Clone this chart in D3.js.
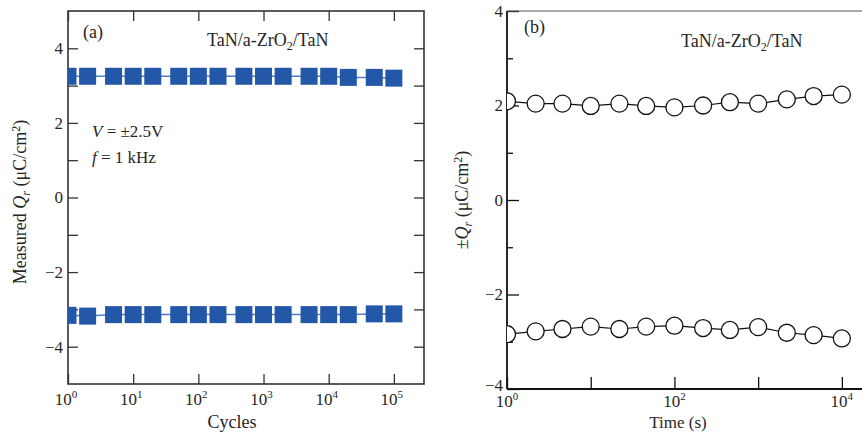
<!DOCTYPE html>
<html>
<head>
<meta charset="utf-8">
<script src="https://cdn.jsdelivr.net/npm/d3@7"></script>
<style>
    body { margin: 0; background: #fff; }
    svg text { font-family: "Liberation Serif", "Times New Roman", serif; fill: #262626; }
</style>
</head>
<body>
<div id="chart"></div>
<script>
// ---- data ----
// (a) remanent charge vs. switching cycles
const cycles = [1, 2, 5, 10, 20, 50, 100, 200, 500, 1000, 2000, 5000, 10000, 20000, 50000, 100000];
const qrPosCycles = [3.25, 3.25, 3.25, 3.25, 3.25, 3.25, 3.25, 3.25, 3.25, 3.25, 3.25, 3.25, 3.25, 3.22, 3.22, 3.20];
const qrNegCycles = [-3.16, -3.18, -3.14, -3.14, -3.14, -3.14, -3.14, -3.14, -3.14, -3.14, -3.14, -3.14, -3.14, -3.14, -3.12, -3.12];

// (b) retention: charge vs. time
const times = [1, 2.2, 4.6, 10, 22, 46, 100, 220, 460, 1000, 2200, 4600, 10000];
const qrPosTime = [2.09, 2.04, 2.04, 1.99, 2.04, 1.99, 1.96, 2.0, 2.07, 2.04, 2.13, 2.2, 2.23];
const qrNegTime = [-2.84, -2.78, -2.73, -2.68, -2.73, -2.68, -2.66, -2.71, -2.75, -2.69, -2.81, -2.86, -2.93];

const yTicksA = [-4, -3, -2, -1, 0, 1, 2, 3, 4];
const xTicksA = [1, 10, 100, 1000, 10000, 100000];
const yTicksB = [-4, -3, -2, -1, 0, 1, 2, 3, 4];
const xTicksB = [1, 10, 100, 1000, 10000];
const xLabelsB = [1, 100, 10000];

const W = 862, H = 437;
const svg = d3.select("#chart").append("svg")
    .attr("width", W)
    .attr("height", H);

const minus = v => (v < 0 ? "\u2212" + Math.abs(v) : "" + v);

// writes "10^n" into a text node
function powLabel(sel, v) {
    sel.append("tspan").text("10");
    sel.append("tspan").attr("dy", -7).attr("font-size", 11).text(Math.round(Math.log10(v)));
}

// rotated y label "<prefix> Q_r (μC/cm²)"
function qLabel(x, y, prefix) {
    let t = svg.append("text")
        .attr("transform", `translate(${x},${y}) rotate(-90)`)
        .attr("text-anchor", "middle")
        .attr("font-size", 18);
    t.append("tspan").text(prefix);
    t.append("tspan").attr("font-style", "italic").text("Q");
    t.append("tspan").attr("font-style", "italic").attr("font-size", 12).attr("dy", 4).text("r");
    t.append("tspan").attr("dy", -4).text(" (\u03bcC/cm");
    t.append("tspan").attr("font-size", 12).attr("dy", -6).text("2");
    t.append("tspan").attr("dy", 6).text(")");
}

function stackLabel(x, y) {
    let t = svg.append("text").attr("x", x).attr("y", y).attr("font-size", 18);
    t.append("tspan").text("TaN/a-ZrO");
    t.append("tspan").attr("font-size", 12).attr("dy", 4).text("2");
    t.append("tspan").attr("dy", -4).text("/TaN");
}

// ticks, all pointing inward
function styleAxis(g) {
    g.select(".domain").remove();
    g.selectAll(".tick line").attr("stroke", "#333").attr("stroke-width", 1.3);
    g.selectAll(".tick text").attr("font-size", 17).attr("fill", "#262626")
        .style("font-family", "'Liberation Serif', serif");
}

/* * * * * * * * * * * * * *
*        panel (a)          *
* * * * * * * * * * * * * */
const ax = {left: 68, right: 424, top: 11, bottom: 384};
const xA = d3.scaleLog().domain([1, 2.9e5]).range([ax.left, ax.right]);
const yA = d3.scaleLinear().domain([-5, 5]).range([ax.bottom, ax.top]);

const defs = svg.append("defs");
defs.append("clipPath").attr("id", "clipA")
    .append("rect").attr("x", ax.left).attr("y", ax.top)
    .attr("width", ax.right - ax.left).attr("height", ax.bottom - ax.top);

svg.append("g").attr("transform", `translate(${ax.left},0)`)
    .call(d3.axisLeft(yA).tickValues(yTicksA).tickSize(-10).tickPadding(5)
        .tickFormat(d => (d % 2 === 0 ? minus(d) : "")))
    .call(styleAxis);
svg.append("g").attr("transform", `translate(${ax.right},0)`)
    .call(d3.axisRight(yA).tickValues(yTicksA).tickSize(-10).tickFormat(""))
    .call(styleAxis);
svg.append("g").attr("transform", `translate(0,${ax.bottom})`)
    .call(d3.axisBottom(xA).tickValues(xTicksA).tickSize(-10).tickFormat(""))
    .call(styleAxis);
svg.append("g").attr("transform", `translate(0,${ax.top})`)
    .call(d3.axisTop(xA).tickValues(xTicksA).tickSize(-10).tickFormat(""))
    .call(styleAxis);

svg.selectAll(".xlabA").data(xTicksA).enter()
    .append("text")
    .attr("x", d => xA(d) - 2)
    .attr("y", ax.bottom + 21)
    .attr("text-anchor", "middle")
    .attr("font-size", 17)
    .each(function(d) { powLabel(d3.select(this), d); });

svg.append("rect")
    .attr("x", ax.left).attr("y", ax.top)
    .attr("width", ax.right - ax.left).attr("height", ax.bottom - ax.top)
    .attr("fill", "none").attr("stroke", "#333").attr("stroke-width", 1.6);

const plotA = svg.append("g").attr("clip-path", "url(#clipA)");
const lineA = d3.line().x(d => xA(d[0])).y(d => yA(d[1]));
const sq = 17;

[qrPosCycles, qrNegCycles].forEach((series) => {
    let pts = cycles.map((c, i) => [c, series[i]]);
    plotA.append("path")
        .attr("d", lineA(pts))
        .attr("fill", "none")
        .attr("stroke", "#4f80c4")
        .attr("stroke-width", 1.5);
    plotA.selectAll(null).data(pts).enter()
        .append("rect")
        .attr("x", d => xA(d[0]) - sq / 2)
        .attr("y", d => yA(d[1]) - sq / 2)
        .attr("width", sq)
        .attr("height", sq)
        .attr("fill", "#2357a7");
});

svg.append("text").attr("x", 83).attr("y", 38).attr("font-size", 18).text("(a)");
stackLabel(207, 46);
let vText = svg.append("text").attr("x", 92).attr("y", 137).attr("font-size", 17);
vText.append("tspan").attr("font-style", "italic").text("V");
vText.append("tspan").text(" = \u00b12.5V");
let fText = svg.append("text").attr("x", 92).attr("y", 163).attr("font-size", 17);
fText.append("tspan").attr("font-style", "italic").text("f");
fText.append("tspan").text(" = 1 kHz");

svg.append("text")
    .attr("x", 232)
    .attr("y", 428)
    .attr("text-anchor", "middle")
    .attr("font-size", 18)
    .text("Cycles");
qLabel(26, 202, "Measured ");

/* * * * * * * * * * * * * *
*        panel (b)          *
* * * * * * * * * * * * * */
const bx = {left: 507, right: 862, top: 11, bottom: 389};
const xB = d3.scaleLog().domain([1, 1.74e4]).range([bx.left, bx.right]);
const yB = d3.scaleLinear().domain([-4, 4]).range([bx.bottom, bx.top]);

defs.append("clipPath").attr("id", "clipB")
    .append("rect").attr("x", bx.left).attr("y", bx.top)
    .attr("width", bx.right - bx.left).attr("height", bx.bottom - bx.top);

// y ticks: long on even values, short on odd
let yAxisB = svg.append("g").attr("transform", `translate(${bx.left},0)`)
    .call(d3.axisLeft(yB).tickValues(yTicksB).tickSize(-12).tickPadding(4)
        .tickFormat(d => (d % 2 === 0 ? minus(d) : "")))
    .call(styleAxis);
yAxisB.selectAll(".tick line")
    .attr("x2", d => (d % 2 === 0 ? 12 : 6))
    .attr("stroke", "#111");
// the bottom label sits a little higher so it clears the 10^0 below it
yAxisB.selectAll(".tick text").filter(d => d === -4).attr("dy", "0.1em");

svg.append("g").attr("transform", `translate(0,${bx.bottom})`)
    .call(d3.axisBottom(xB).tickValues(xTicksB).tickSize(-12).tickFormat(""))
    .call(styleAxis)
    .selectAll(".tick line").attr("stroke", "#111");

svg.selectAll(".xlabB").data(xLabelsB).enter()
    .append("text")
    .attr("x", d => xB(d))
    .attr("y", bx.bottom + 18)
    .attr("text-anchor", "middle")
    .attr("font-size", 17)
    .each(function(d) { powLabel(d3.select(this), d); });

// frame: left + bottom in black, thin grey top line, no right edge
svg.append("line")
    .attr("x1", bx.left).attr("x2", bx.left).attr("y1", bx.top).attr("y2", bx.bottom)
    .attr("stroke", "#111").attr("stroke-width", 1.8);
svg.append("line")
    .attr("x1", bx.left).attr("x2", bx.right).attr("y1", bx.bottom).attr("y2", bx.bottom)
    .attr("stroke", "#111").attr("stroke-width", 1.8);
svg.append("line")
    .attr("x1", bx.left).attr("x2", bx.right).attr("y1", bx.top).attr("y2", bx.top)
    .attr("stroke", "#555").attr("stroke-width", 1.2);

const plotB = svg.append("g").attr("clip-path", "url(#clipB)");
const lineB = d3.line().x(d => xB(d[0])).y(d => yB(d[1]));

[qrPosTime, qrNegTime].forEach((series) => {
    let pts = times.map((t, i) => [t, series[i]]);
    plotB.append("path")
        .attr("d", lineB(pts))
        .attr("fill", "none")
        .attr("stroke", "#111")
        .attr("stroke-width", 1.2);
    plotB.selectAll(null).data(pts).enter()
        .append("circle")
        .attr("cx", d => xB(d[0]))
        .attr("cy", d => yB(d[1]))
        .attr("r", 8.5)
        .attr("fill", "#fff")
        .attr("stroke", "#111")
        .attr("stroke-width", 1.3);
});

svg.append("text").attr("x", 524).attr("y", 33).attr("font-size", 18).text("(b)");
stackLabel(681, 47);

svg.append("text")
    .attr("x", 678)
    .attr("y", 428)
    .attr("text-anchor", "middle")
    .attr("font-size", 17)
    .text("Time (s)");
qLabel(468, 200, "\u00b1");
</script>
</body>
</html>
